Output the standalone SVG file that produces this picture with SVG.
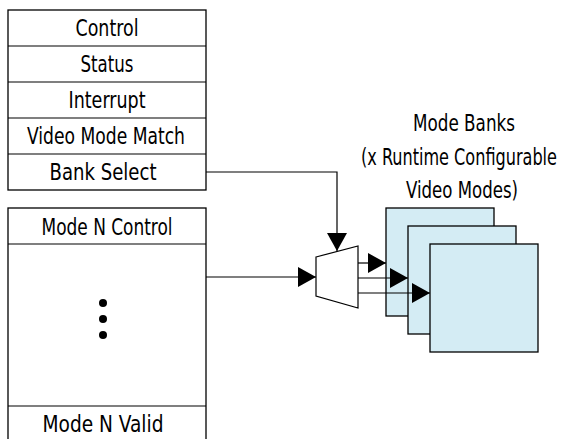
<svg xmlns="http://www.w3.org/2000/svg" width="567" height="439" viewBox="0 0 567 439">
<style>
.box{fill:#fff;stroke:#000;stroke-width:1.3}
.bank{fill:#d4ecf4;stroke:#000;stroke-width:1.3}
.t{font-family:"Liberation Sans Narrow","DejaVu Sans Condensed","Liberation Sans",Arial,sans-serif;font-size:23px;fill:#000;text-anchor:middle}
.ln{fill:none;stroke:#000;stroke-width:1.2}
</style>
<defs>
<marker id="ah" viewBox="0 0 18 20" refX="18" refY="10" markerWidth="18" markerHeight="20" markerUnits="userSpaceOnUse" orient="auto">
<path d="M0,0 L18,10 L0,20 Z" fill="#000"/>
</marker>
</defs>
<g id="registers">
<rect class="box" x="8" y="10" width="198" height="180"/>
<line class="ln" x1="8" y1="46" x2="206" y2="46"/>
<line class="ln" x1="8" y1="82" x2="206" y2="82"/>
<line class="ln" x1="8" y1="118" x2="206" y2="118"/>
<line class="ln" x1="8" y1="154" x2="206" y2="154"/>
<text class="t" x="107" y="36" textLength="63" lengthAdjust="spacingAndGlyphs">Control</text>
<text class="t" x="107" y="72" textLength="53" lengthAdjust="spacingAndGlyphs">Status</text>
<text class="t" x="107" y="108" textLength="77" lengthAdjust="spacingAndGlyphs">Interrupt</text>
<text class="t" x="106" y="144" textLength="158" lengthAdjust="spacingAndGlyphs">Video Mode Match</text>
<text class="t" x="103" y="180" textLength="107" lengthAdjust="spacingAndGlyphs">Bank Select</text>
</g>
<g id="mode-registers">
<rect class="box" x="8" y="208" width="198" height="245"/>
<line class="ln" x1="8" y1="244" x2="206" y2="244"/>
<line class="ln" x1="8" y1="406" x2="206" y2="406"/>
<text class="t" x="107" y="235" textLength="131" lengthAdjust="spacingAndGlyphs">Mode N Control</text>
<circle cx="103" cy="303" r="4"/>
<circle cx="103" cy="319" r="4"/>
<circle cx="103" cy="335" r="4"/>
<text class="t" x="103" y="432" textLength="121" lengthAdjust="spacingAndGlyphs">Mode N Valid</text>
</g>
<g id="mux">
<path d="M316,257 L358,246 L358,308 L316,296 Z" fill="#fff" stroke="#000" stroke-width="1.2"/>
</g>
<g id="mode-banks">
<text class="t" x="464" y="131" textLength="102" lengthAdjust="spacingAndGlyphs">Mode Banks</text>
<text class="t" x="459" y="165" textLength="196" lengthAdjust="spacingAndGlyphs">(x Runtime Configurable</text>
<text class="t" x="462" y="198" textLength="112" lengthAdjust="spacingAndGlyphs">Video Modes)</text>
<rect class="bank" x="386" y="208" width="108" height="108"/>
<rect class="bank" x="408" y="226" width="108" height="108"/>
<rect class="bank" x="430" y="244" width="108" height="108"/>
</g>
<g id="connectors">
<path class="ln" d="M206,172 L337,172 L337,251" marker-end="url(#ah)"/>
<path class="ln" d="M206,277 L316,277" stroke="#555" marker-end="url(#ah)"/>
<path class="ln" d="M358,263 L386,263" marker-end="url(#ah)"/>
<path class="ln" d="M358,278 L408,278" stroke="#555" marker-end="url(#ah)"/>
<path class="ln" d="M358,293 L430,293" marker-end="url(#ah)"/>
</g>
</svg>
